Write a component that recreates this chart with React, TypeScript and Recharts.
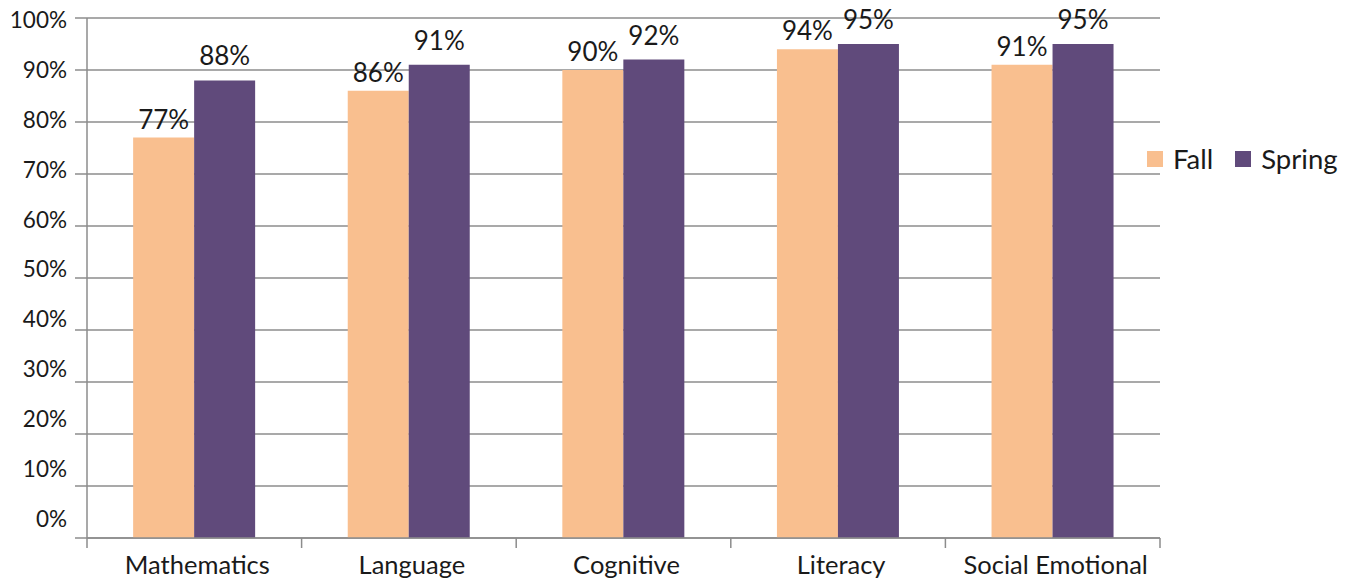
import React from 'react';
import { BarChart, Bar, XAxis, YAxis, CartesianGrid, Legend, LabelList } from 'recharts';

const categories = ['Mathematics', 'Language', 'Cognitive', 'Literacy', 'Social Emotional'];
const fallValues = [77, 86, 90, 94, 91];
const springValues = [88, 91, 92, 95, 95];
const yTicks = [0, 10, 20, 30, 40, 50, 60, 70, 80, 90, 100];
const seriesNames = ['Fall', 'Spring'];

const FALL = '#F9BF8F';
const SPRING = '#604A7B';
const GRID = '#8C8C8C';
const FONT = 'Lato, "Open Sans", sans-serif';

const data = categories.map((c, i) => ({ name: c, Fall: fallValues[i], Spring: springValues[i] }));

function XTick(props: any) {
  const { x, y, payload, index } = props;
  const half = payload && payload.offset ? payload.offset : (props.width || 1073) / categories.length / 2;
  return (
    <g>
      <line x1={x - half} x2={x - half} y1={y - 10} y2={y} stroke={GRID} strokeWidth={1.5} />
      {index === categories.length - 1 && (
        <line x1={x + half} x2={x + half} y1={y - 10} y2={y} stroke={GRID} strokeWidth={1.5} />
      )}
      <text x={x + 3} y={y + 26} textAnchor="middle" fill="#1a1a1a" fontSize={25.5} fontFamily={FONT}>
        {payload.value}
      </text>
    </g>
  );
}

function YTick(props: any) {
  const { x, y, payload } = props;
  const shift = 2 - (100 - payload.value) * 0.21;
  return (
    <text x={x} y={y + shift} dy="0.355em" textAnchor="end" fill="#1a1a1a" fontSize={22.5} fontFamily={FONT}>
      {payload.value + '%'}
    </text>
  );
}

function LegendContent() {
  const colors = [FALL, SPRING];
  return (
    <div style={{ display: 'flex', alignItems: 'center', fontFamily: FONT, fontSize: 27.5, color: '#1a1a1a', whiteSpace: 'nowrap' }}>
      {seriesNames.map((n, i) => (
        <div key={n} style={{ display: 'flex', alignItems: 'center', marginRight: i === 0 ? 22 : 0 }}>
          <span style={{ display: 'inline-block', width: 16, height: 16, background: colors[i], marginRight: 10 }} />
          <span>{n}</span>
        </div>
      ))}
    </div>
  );
}

export default function App() {
  return (
    <div style={{ position: 'absolute', left: 0, top: 0, width: 1357, height: 584, background: '#fff' }}>
      <BarChart
        width={1357}
        height={584}
        data={data}
        margin={{ top: 18, right: 197, bottom: 0, left: 0 }}
        barCategoryGap="21.5%"
        barGap={0}
      >
        <CartesianGrid vertical={false} stroke={GRID} strokeWidth={1.5} />
        <XAxis
          dataKey="name"
          height={46}
          axisLine={{ stroke: GRID, strokeWidth: 1.5 }}
          tickLine={false}
          tickSize={10}
          tickMargin={0}
          tick={<XTick />}
          interval={0}
        />
        <YAxis
          width={87}
          domain={[0, 100]}
          ticks={yTicks}
          axisLine={{ stroke: GRID, strokeWidth: 1.5 }}
          tickLine={{ stroke: GRID, strokeWidth: 1.5 }}
          tickSize={12}
          tickMargin={8}
          tick={<YTick />}
          interval={0}
        />
        <Legend
          verticalAlign="middle"
          align="center"
          layout="horizontal"
          content={<LegendContent />}
          wrapperStyle={{ left: 1147, top: 142, width: 'auto' }}
        />
        <Bar dataKey="Fall" fill={FALL} isAnimationActive={false}>
          <LabelList dataKey="Fall" position="top" offset={9} formatter={(v: any) => v + '%'} fill="#1a1a1a" fontSize={26} fontFamily={FONT} />
        </Bar>
        <Bar dataKey="Spring" fill={SPRING} isAnimationActive={false}>
          <LabelList dataKey="Spring" position="top" offset={15} formatter={(v: any) => v + '%'} fill="#1a1a1a" fontSize={26} fontFamily={FONT} />
        </Bar>
      </BarChart>
    </div>
  );
}
